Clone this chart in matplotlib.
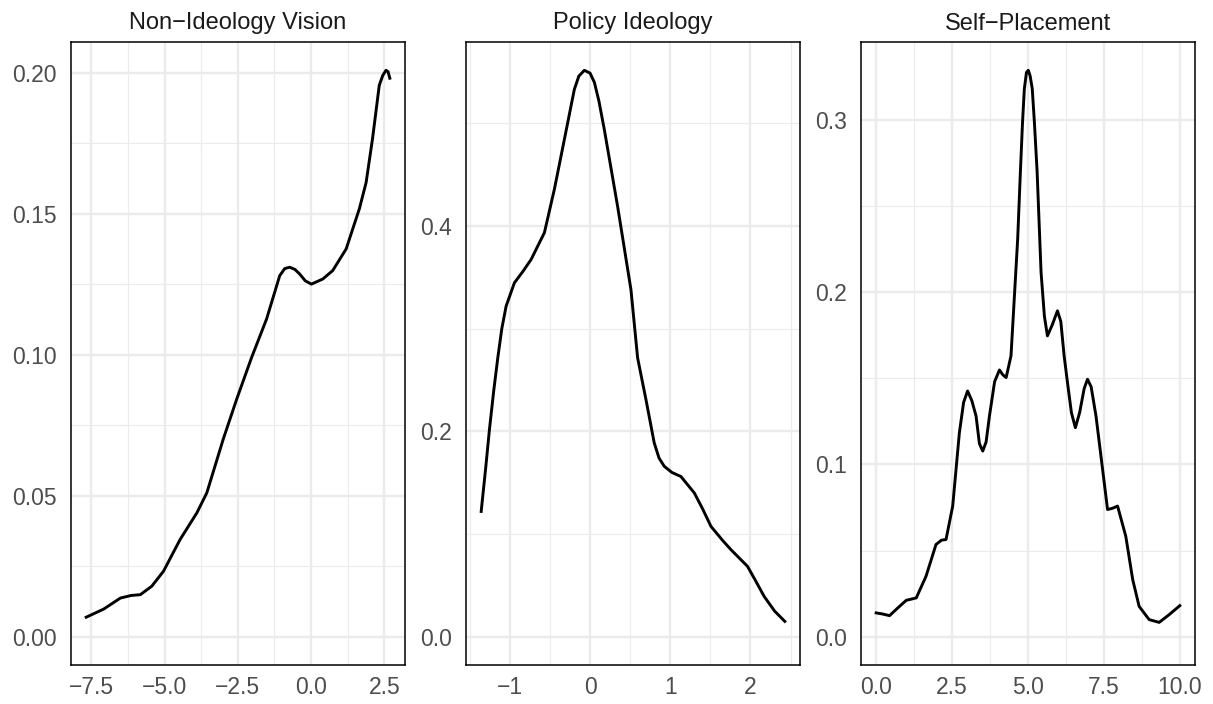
import matplotlib
matplotlib.use('Agg')
import matplotlib.pyplot as plt
from matplotlib.ticker import MultipleLocator, AutoMinorLocator, FuncFormatter

plt.rcParams['font.family'] = ['Liberation Sans', 'DejaVu Sans']

# density curves
vision_x = [-7.68, -7.08, -6.51, -6.15, -5.83, -5.44, -5.04, -4.47, -3.90, -3.56, -3.00, -2.54, -2.03,
            -1.52, -1.07, -0.90, -0.73, -0.55, -0.39, -0.2, 0.01, 0.40, 0.74, 1.20, 1.65, 1.88, 2.10,
            2.33, 2.45, 2.56, 2.63, 2.69]
vision_y = [0.0069, 0.0098, 0.0137, 0.0146, 0.0149, 0.0179, 0.0232, 0.0345, 0.0439, 0.0510, 0.0700, 0.0842, 0.0990,
            0.1126, 0.1280, 0.1305, 0.1310, 0.1302, 0.1286, 0.1262, 0.1250, 0.1268, 0.1298, 0.1375, 0.1517, 0.1610, 0.1766,
            0.1955, 0.1990, 0.2008, 0.2003, 0.1980]

policy_x = [-1.357, -1.30, -1.254, -1.20, -1.15, -1.10, -1.046, -0.943, -0.835, -0.735, -0.569, -0.445, -0.32,
            -0.196, -0.14, -0.071, 0.0, 0.054, 0.11, 0.178, 0.344, 0.51, 0.593, 0.697, 0.80, 0.86, 0.925, 1.02,
            1.133, 1.30, 1.40, 1.507, 1.65, 1.756, 1.963, 2.06, 2.17, 2.30, 2.428]
policy_y = [0.122, 0.165, 0.2018, 0.240, 0.2716, 0.300, 0.322, 0.3447, 0.356, 0.3674, 0.3935, 0.4357, 0.4844,
            0.533, 0.546, 0.5517, 0.549, 0.540, 0.522, 0.494, 0.419, 0.338, 0.2716, 0.231, 0.1888, 0.174, 0.166, 0.160,
            0.156, 0.140, 0.125, 0.1075, 0.094, 0.0848, 0.0685, 0.055, 0.0393, 0.025, 0.0149]

self_x = [0.0, 0.2, 0.44, 0.7, 0.99, 1.32, 1.64, 1.97, 2.15, 2.30, 2.52, 2.74, 2.88, 3.01, 3.15, 3.29, 3.40,
          3.51, 3.62, 3.73, 3.90, 4.06, 4.17, 4.28, 4.44, 4.66, 4.75, 4.82, 4.88, 4.95, 5.01, 5.07, 5.14,
          5.21, 5.30, 5.43, 5.54, 5.64, 5.80, 5.97, 6.08, 6.19, 6.30, 6.43, 6.56, 6.70, 6.85, 6.96, 7.08,
          7.24, 7.62, 7.78, 7.95, 8.22, 8.45, 8.66, 8.99, 9.32, 9.65, 10.0]
self_y = [0.0138, 0.0132, 0.0122, 0.0165, 0.0211, 0.0225, 0.035, 0.0535, 0.0560, 0.0564, 0.0758, 0.1184, 0.136,
          0.1426, 0.137, 0.128, 0.112, 0.1077, 0.113, 0.128, 0.148, 0.1548, 0.1520, 0.1504, 0.163, 0.2308, 0.27,
          0.2987, 0.318, 0.3275, 0.3287, 0.3255, 0.318, 0.2987, 0.27, 0.2115, 0.186, 0.1746, 0.181, 0.1891,
          0.183, 0.163, 0.1475, 0.13, 0.1213, 0.13, 0.144, 0.1494, 0.145, 0.128, 0.0738, 0.0745, 0.0758,
          0.0583, 0.033, 0.0176, 0.0099, 0.0083, 0.0128, 0.018]

titles = ['Non\u2212Ideology Vision', 'Policy Ideology', 'Self\u2212Placement']
series = [(vision_x, vision_y), (policy_x, policy_y), (self_x, self_y)]
x_major = [2.5, 1, 2.5]
y_major = [0.05, 0.2, 0.1]
y_fmt = ['%.2f', '%.1f', '%.1f']
x_fmt = ['%.1f', '%d', '%.1f']


def make_fmt(f):
    return FuncFormatter(lambda v, p: (f % v).replace('-', '\u2212'))


fig = plt.figure(figsize=(12.13, 7.04), dpi=100)
lefts = [71, 466, 861]
for i in range(3):
    ax = fig.add_axes([lefts[i] / 1213, 1 - 665 / 704, 334 / 1213, 623 / 704])
    xs, ys = series[i]
    ax.plot(xs, ys, color='black', lw=2.1, solid_joinstyle='round', zorder=3)
    span = max(xs) - min(xs)
    ax.set_xlim(min(xs) - 0.05 * span, max(xs) + 0.05 * span)
    ax.set_ylim(-0.05 * max(ys), 1.05 * max(ys))
    ax.xaxis.set_major_locator(MultipleLocator(x_major[i]))
    ax.yaxis.set_major_locator(MultipleLocator(y_major[i]))
    ax.xaxis.set_minor_locator(AutoMinorLocator(2))
    ax.yaxis.set_minor_locator(AutoMinorLocator(2))
    ax.xaxis.set_major_formatter(make_fmt(x_fmt[i]))
    ax.yaxis.set_major_formatter(make_fmt(y_fmt[i]))
    ax.grid(which='major', color='#EBEBEB', lw=1.7)
    ax.grid(which='minor', color='#EBEBEB', lw=0.85)
    ax.set_axisbelow(True)
    ax.tick_params(which='both', length=0, labelsize=16.5, labelcolor='#4D4D4D')
    ax.tick_params(axis='y', pad=10)
    ax.tick_params(axis='x', pad=8)
    for s in ax.spines.values():
        s.set_color('black')
        s.set_linewidth(1.1)
    ax.set_title(titles[i], fontsize=17, color='#1A1A1A', pad=9)

plt.savefig('out.png', dpi=100)
